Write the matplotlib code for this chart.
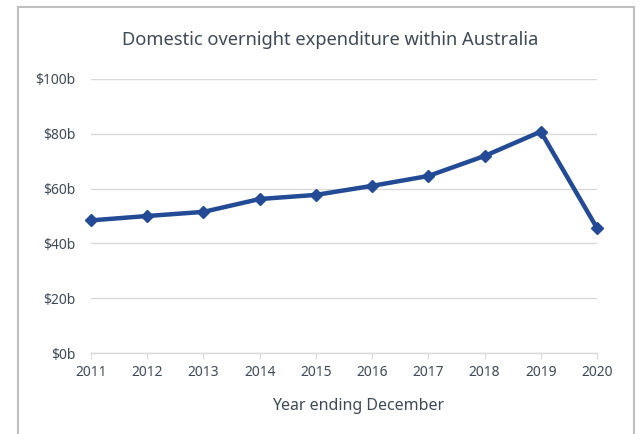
import matplotlib
matplotlib.use("Agg")
import matplotlib.pyplot as plt
from matplotlib.patches import Rectangle

years = [2011, 2012, 2013, 2014, 2015, 2016, 2017, 2018, 2019, 2020]
spend = [48.4, 50.0, 51.5, 56.2, 57.7, 61.0, 64.6, 71.9, 80.8, 45.6]
y_ticks = [0, 20, 40, 60, 80, 100]
y_labels = ["$0b", "$20b", "$40b", "$60b", "$80b", "$100b"]

plt.rcParams['font.family'] = ['Noto Sans', 'DejaVu Sans']
text_color = '#404a56'
line_color = '#234a94'

fig = plt.figure(figsize=(6.44, 4.34), dpi=100)
ax = fig.add_axes([91/644, 1 - 353/434, (597 - 91)/644, (353 - 79)/434])

# outer chart border (bottom edge is off the picture)
fig.patches.append(Rectangle((18/644, -0.05), (634 - 18)/644, 1.05 - 7/434,
                             transform=fig.transFigure, fill=False,
                             edgecolor='#bfbfbf', linewidth=1.5))

ax.plot(years, spend, color=line_color, linewidth=3.2, marker='D',
        markersize=6.5, clip_on=False, zorder=3)

ax.set_xlim(2011, 2020)
ax.set_ylim(0, 100)
ax.set_xticks(years)
ax.set_yticks(y_ticks)
ax.set_yticklabels(y_labels)
ax.grid(axis='y', color='#d9d9d9', linewidth=1)
ax.set_axisbelow(True)

for side in ['top', 'right', 'left']:
    ax.spines[side].set_visible(False)
ax.spines['bottom'].set_color('#d9d9d9')
ax.spines['bottom'].set_linewidth(1)

ax.tick_params(axis='y', length=0, pad=11, labelsize=10, labelcolor=text_color)
ax.tick_params(axis='x', length=4, color='#d9d9d9', pad=5, labelsize=10,
               labelcolor=text_color)

ax.set_xlabel('Year ending December', fontsize=11.5, color=text_color, labelpad=16)
ax.xaxis.set_label_coords(0.528, -0.165)
fig.text(330/644, 1 - 40/434, 'Domestic overnight expenditure within Australia',
         ha='center', va='center', fontsize=13.2, color=text_color)

fig.savefig('out.png', dpi=100)
